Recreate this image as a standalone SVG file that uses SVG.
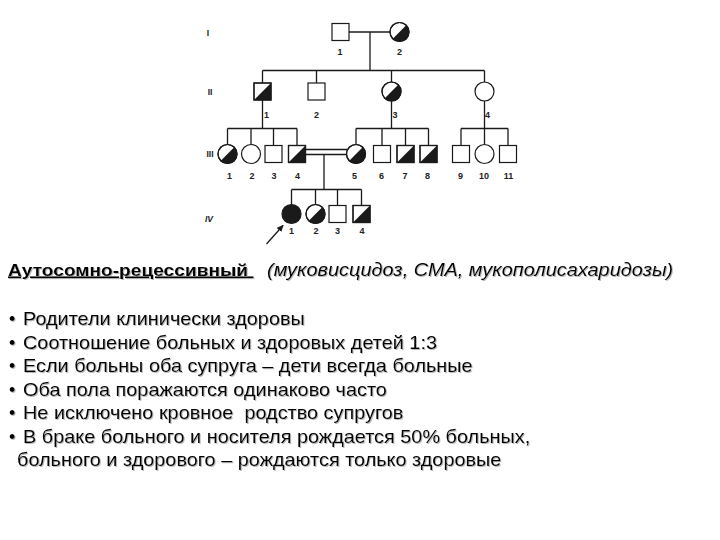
<svg xmlns="http://www.w3.org/2000/svg" width="720" height="540" viewBox="0 0 720 540">
<style>
.ln{stroke:#1a1a1a;stroke-width:1.3;fill:none}
.sh{stroke:#1a1a1a;stroke-width:1.2;fill:#fff}
.fl{fill:#1a1a1a;stroke:none}
.num{font-family:"Liberation Sans",Arial,sans-serif;font-size:9px;font-weight:bold;fill:#222;text-anchor:middle}
.gen{font-family:"Liberation Sans",Arial,sans-serif;font-size:8.5px;font-weight:bold;fill:#222;text-anchor:middle}
.txt{font-family:"Liberation Sans",Arial,sans-serif;font-size:18px;fill:#000}
.ttl{font-family:"Liberation Sans",Arial,sans-serif;fill:#000}
</style>
<defs>
<filter id="shd" x="-5%" y="-20%" width="110%" height="150%">
<feDropShadow dx="1" dy="1" stdDeviation="0.6" flood-color="#888" flood-opacity="0.6"/>
</filter>
<g id="sq"><rect class="sh" x="-8.5" y="-8.5" width="17" height="17"/></g>
<g id="sqh"><rect class="sh" x="-8.5" y="-8.5" width="17" height="17"/><path class="fl" d="M-8.5 8.5 L8.5 -8.5 L8.5 8.5 Z"/><rect x="-8.5" y="-8.5" width="17" height="17" fill="none" stroke="#1a1a1a" stroke-width="1.2"/></g>
<g id="ci"><circle class="sh" r="9.5"/></g>
<g id="cih"><circle class="sh" r="9.5"/><path class="fl" d="M-6.72 6.72 A9.5 9.5 0 0 0 6.72 -6.72 Z"/><circle r="9.5" fill="none" stroke="#1a1a1a" stroke-width="1.2"/></g>
<g id="cif"><circle r="9.5" fill="#1a1a1a" stroke="#1a1a1a" stroke-width="1.2"/></g>
<marker id="arr" markerWidth="8" markerHeight="8" refX="6" refY="3" orient="auto" markerUnits="userSpaceOnUse">
<path d="M0 0 L7 3 L0 6 Z" fill="#1a1a1a"/>
</marker>
</defs>
<rect width="720" height="540" fill="#fff"/>

<g id="connectors">
<line class="ln" x1="349" y1="32" x2="390" y2="32"/>
<line class="ln" x1="370" y1="32" x2="370" y2="70.5"/>
<line class="ln" x1="262.5" y1="70.5" x2="484.5" y2="70.5"/>
<line class="ln" x1="262.5" y1="70.5" x2="262.5" y2="83"/>
<line class="ln" x1="316.5" y1="70.5" x2="316.5" y2="83"/>
<line class="ln" x1="391.5" y1="70.5" x2="391.5" y2="82"/>
<line class="ln" x1="484.5" y1="70.5" x2="484.5" y2="82"/>
<line class="ln" x1="262.5" y1="100" x2="262.5" y2="128.5"/>
<line class="ln" x1="227.5" y1="128.5" x2="297" y2="128.5"/>
<line class="ln" x1="227.5" y1="128.5" x2="227.5" y2="144.5"/>
<line class="ln" x1="251" y1="128.5" x2="251" y2="144.5"/>
<line class="ln" x1="273.5" y1="128.5" x2="273.5" y2="145.5"/>
<line class="ln" x1="297" y1="128.5" x2="297" y2="145.5"/>
<line class="ln" x1="391.5" y1="101" x2="391.5" y2="128.5"/>
<line class="ln" x1="356" y1="128.5" x2="428.5" y2="128.5"/>
<line class="ln" x1="356" y1="128.5" x2="356" y2="144.5"/>
<line class="ln" x1="382" y1="128.5" x2="382" y2="145.5"/>
<line class="ln" x1="405.5" y1="128.5" x2="405.5" y2="145.5"/>
<line class="ln" x1="428.5" y1="128.5" x2="428.5" y2="145.5"/>
<line class="ln" x1="484.5" y1="101" x2="484.5" y2="128.5"/>
<line class="ln" x1="461" y1="128.5" x2="508" y2="128.5"/>
<line class="ln" x1="461" y1="128.5" x2="461" y2="145.5"/>
<line class="ln" x1="484.5" y1="128.5" x2="484.5" y2="144.5"/>
<line class="ln" x1="508" y1="128.5" x2="508" y2="145.5"/>
<line class="ln" x1="305.5" y1="149.5" x2="347" y2="149.5"/>
<line class="ln" x1="305.5" y1="154.5" x2="347" y2="154.5"/>
<line class="ln" x1="324" y1="154.5" x2="324" y2="189.5"/>
<line class="ln" x1="291.5" y1="189.5" x2="361.5" y2="189.5"/>
<line class="ln" x1="291.5" y1="189.5" x2="291.5" y2="204.5"/>
<line class="ln" x1="315.5" y1="189.5" x2="315.5" y2="204.5"/>
<line class="ln" x1="337.5" y1="189.5" x2="337.5" y2="205.5"/>
<line class="ln" x1="361.5" y1="189.5" x2="361.5" y2="205.5"/>
<line class="ln" x1="266.5" y1="244" x2="283" y2="225.5" marker-end="url(#arr)"/>
</g>

<g id="gen-labels">
<text class="gen" x="208" y="36">I</text>
<text class="gen" x="210" y="95">II</text>
<text class="gen" x="210" y="157">III</text>
<text class="gen" x="209" y="222" font-style="italic">IV</text>
</g>

<g id="I-1"><use href="#sq" x="340.5" y="32"/><text class="num" x="340" y="55">1</text></g>
<g id="I-2"><use href="#cih" x="399.5" y="32"/><text class="num" x="399.5" y="55">2</text></g>

<g id="II-1"><use href="#sqh" x="262.5" y="91.5"/><text class="num" x="266.5" y="117.5">1</text></g>
<g id="II-2"><use href="#sq" x="316.5" y="91.5"/><text class="num" x="316.5" y="117.5">2</text></g>
<g id="II-3"><use href="#cih" x="391.5" y="91.5"/><text class="num" x="395" y="117.5">3</text></g>
<g id="II-4"><use href="#ci" x="484.5" y="91.5"/><text class="num" x="487.5" y="117.5">4</text></g>

<g id="III-1"><use href="#cih" x="227.5" y="154"/><text class="num" x="229.5" y="178.5">1</text></g>
<g id="III-2"><use href="#ci" x="251" y="154"/><text class="num" x="252" y="178.5">2</text></g>
<g id="III-3"><use href="#sq" x="273.5" y="154"/><text class="num" x="274" y="178.5">3</text></g>
<g id="III-4"><use href="#sqh" x="297" y="154"/><text class="num" x="297.5" y="178.5">4</text></g>
<g id="III-5"><use href="#cih" x="356" y="154"/><text class="num" x="354.5" y="178.5">5</text></g>
<g id="III-6"><use href="#sq" x="382" y="154"/><text class="num" x="381.5" y="178.5">6</text></g>
<g id="III-7"><use href="#sqh" x="405.5" y="154"/><text class="num" x="405" y="178.5">7</text></g>
<g id="III-8"><use href="#sqh" x="428.5" y="154"/><text class="num" x="427.5" y="178.5">8</text></g>
<g id="III-9"><use href="#sq" x="461" y="154"/><text class="num" x="460.5" y="178.5">9</text></g>
<g id="III-10"><use href="#ci" x="484.5" y="154"/><text class="num" x="484" y="178.5">10</text></g>
<g id="III-11"><use href="#sq" x="508" y="154"/><text class="num" x="508.5" y="178.5">11</text></g>

<g id="IV-1"><use href="#cif" x="291.5" y="214"/><text class="num" x="291.5" y="233.5">1</text></g>
<g id="IV-2"><use href="#cih" x="315.5" y="214"/><text class="num" x="316" y="233.5">2</text></g>
<g id="IV-3"><use href="#sq" x="337.5" y="214"/><text class="num" x="337.5" y="233.5">3</text></g>
<g id="IV-4"><use href="#sqh" x="361.5" y="214"/><text class="num" x="362" y="233.5">4</text></g>

<g id="text" filter="url(#shd)">
<text class="ttl" xml:space="preserve" style="white-space:pre" transform="translate(8,275.5) scale(1.14,1)" font-size="16.8" font-weight="bold" text-decoration="underline">Аутосомно-рецессивный </text>
<text class="ttl" transform="translate(267,275.5) scale(1.14,1)" font-size="17.5" font-style="italic">(муковисцидоз, СМА, мукополисахаридозы)</text>
<text class="txt" x="9" y="325">•</text><text class="txt" transform="translate(23,325) scale(1.105,1)">Родители клинически здоровы</text>
<text class="txt" x="9" y="348.5">•</text><text class="txt" transform="translate(23,348.5) scale(1.105,1)">Соотношение больных и здоровых детей 1:3</text>
<text class="txt" x="9" y="372">•</text><text class="txt" transform="translate(23,372) scale(1.105,1)">Если больны оба супруга – дети всегда больные</text>
<text class="txt" x="9" y="395.5">•</text><text class="txt" transform="translate(23,395.5) scale(1.105,1)">Оба пола поражаются одинаково часто</text>
<text class="txt" x="9" y="419">•</text><text class="txt" xml:space="preserve" style="white-space:pre" transform="translate(23,419) scale(1.105,1)">Не исключено кровное  родство супругов</text>
<text class="txt" x="9" y="442.5">•</text><text class="txt" transform="translate(23,442.5) scale(1.105,1)">В браке больного и носителя рождается 50% больных,</text>
<text class="txt" transform="translate(17,466) scale(1.105,1)">больного и здорового – рождаются только здоровые</text>
</g>
</svg>
